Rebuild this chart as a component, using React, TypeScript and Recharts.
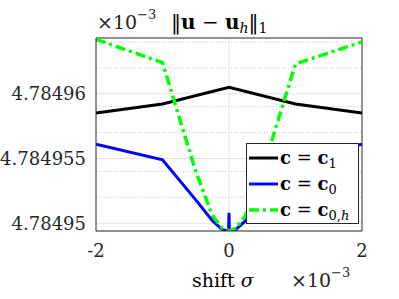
import React from "react";
import { LineChart, Line, XAxis, YAxis, CartesianGrid, ReferenceLine } from "recharts";

// ---- data ----
const blackX = [-2, -1, 0, 1, 2];
const blackY = [4.7849585, 4.7849592, 4.7849605, 4.7849592, 4.7849585];

const blueX = [-2, -1, -0.5, -0.25, -0.1, -0.006, 0, 0.006, 0.1, 0.25, 0.5, 1, 2];
const blueY = [
  4.7849561, 4.7849549, 4.7849518, 4.7849502, 4.7849495, 4.7849494, 4.7849508,
  4.7849494, 4.7849495, 4.7849502, 4.7849518, 4.7849549, 4.7849561,
];

const greenX = [-2, -1, -0.5, -0.25, -0.1, 0, 0.1, 0.25, 0.5, 1, 2];
const greenY = [
  4.7849642, 4.7849624, 4.784954, 4.7849506, 4.7849496, 4.7849494, 4.7849496,
  4.7849506, 4.784954, 4.7849623, 4.784964,
];

const xTicks = [-2, 0, 2];
const yTicks = [4.78495, 4.784955, 4.78496];
const yMinorGrid = [
  4.784951, 4.784952, 4.784953, 4.784954, 4.784956, 4.784957, 4.784958,
  4.784959, 4.784961, 4.784962, 4.784963, 4.784964,
];
const X_DOMAIN: [number, number] = [-2, 2];
const Y_DOMAIN: [number, number] = [4.7849494, 4.7849643];

const toRows = (xs: number[], ys: number[]) => xs.map((x, i) => ({ x, y: ys[i] }));
const blackData = toRows(blackX, blackY);
const blueData = toRows(blueX, blueY);
const greenData = toRows(greenX, greenY);

const FONT = "DejaVu Serif";
const AX = "#262626";
const GREEN_DASH = "10 4 3 4";

export default function App() {
  return (
    <div style={{ position: "absolute", left: 0, top: 0, width: 399, height: 299, background: "#fff", fontFamily: FONT }}>
      <LineChart
        width={399}
        height={299}
        margin={{ top: 38, right: 37, left: 0, bottom: 0 }}
      >
        <CartesianGrid
          horizontalValues={yMinorGrid}
          vertical={false}
          stroke="#c8c8c8"
          strokeDasharray="1 2"
        />
        <CartesianGrid horizontalValues={yTicks} verticalValues={[0]} stroke="#e3e3e3" />
        <XAxis
          type="number"
          dataKey="x"
          domain={X_DOMAIN}
          ticks={xTicks}
          allowDataOverflow
          height={68}
          tickLine={false}
          tickSize={6}
          tickMargin={7}
          stroke={AX}
          tick={{ fill: AX, fontSize: 18, style: { fontFamily: FONT } }}
          tickFormatter={(v: number) => String(v)}
        />
        <YAxis
          type="number"
          dataKey="y"
          domain={Y_DOMAIN}
          ticks={yTicks}
          allowDataOverflow
          width={96}
          tickLine={false}
          tickSize={6}
          tickMargin={4}
          stroke={AX}
          tick={{ fill: AX, fontSize: 18, style: { fontFamily: FONT } }}
          tickFormatter={(v: number) => String(v)}
        />
        <ReferenceLine y={Y_DOMAIN[1]} stroke={AX} />
        <ReferenceLine x={X_DOMAIN[1]} stroke={AX} />
        <Line data={blackData} dataKey="y" type="linear" stroke="#000" strokeWidth={3} dot={false} isAnimationActive={false} />
        <Line data={blueData} dataKey="y" type="linear" stroke="#0000ff" strokeWidth={3} dot={false} isAnimationActive={false} />
        <Line
          data={greenData}
          dataKey="y"
          type="linear"
          stroke="#00ff00"
          strokeWidth={3.5}
          strokeDasharray={GREEN_DASH}
          dot={false}
          isAnimationActive={false}
        />
      </LineChart>

      {/* title and axis labels */}
      <svg width={399} height={299} style={{ position: "absolute", left: 0, top: 0, pointerEvents: "none" }}>
        <g style={{ fontFamily: FONT }} fill={AX}>
          <text x={97} y={29} fontSize={19}>
            ×10<tspan fontSize={13} dy={-10}>−3</tspan>
          </text>
          <text x={171} y={29} fontSize={20} fill="#000">
            ‖<tspan fontWeight="bold">u</tspan> − <tspan fontWeight="bold">u</tspan>
            <tspan fontStyle="italic" fontSize={14} dy={4}>h</tspan>
            <tspan dy={-4}>‖</tspan>
            <tspan fontSize={14} dy={4}>1</tspan>
          </text>
          <text x={192} y={287} fontSize={19} fill="#000">
            shift <tspan fontStyle="italic">σ</tspan>
          </text>
          <text x={291} y={287} fontSize={19}>
            ×10<tspan fontSize={13} dy={-10}>−3</tspan>
          </text>
        </g>
      </svg>

      {/* legend */}
      <div
        style={{
          position: "absolute",
          left: 246,
          top: 143,
          width: 111,
          height: 79,
          border: `1px solid ${AX}`,
          background: "#fff",
        }}
      >
        <svg width={111} height={79}>
          <g style={{ fontFamily: FONT }} fill="#000">
            <line x1={2} x2={31} y1={14} y2={14} stroke="#000" strokeWidth={3} />
            <text x={33} y={20} fontSize={18}>
              <tspan fontWeight="bold">c</tspan> = <tspan fontWeight="bold">c</tspan>
              <tspan fontSize={13} dy={4}>1</tspan>
            </text>
            <line x1={2} x2={31} y1={40} y2={40} stroke="#0000ff" strokeWidth={3} />
            <text x={33} y={46} fontSize={18}>
              <tspan fontWeight="bold">c</tspan> = <tspan fontWeight="bold">c</tspan>
              <tspan fontSize={13} dy={4}>0</tspan>
            </text>
            <line x1={2} x2={31} y1={66} y2={66} stroke="#00ff00" strokeWidth={3.5} strokeDasharray={GREEN_DASH} />
            <text x={33} y={72} fontSize={18}>
              <tspan fontWeight="bold">c</tspan> = <tspan fontWeight="bold">c</tspan>
              <tspan fontSize={13} dy={4}>0,</tspan>
              <tspan fontSize={13} fontStyle="italic">h</tspan>
            </text>
          </g>
        </svg>
      </div>
    </div>
  );
}
